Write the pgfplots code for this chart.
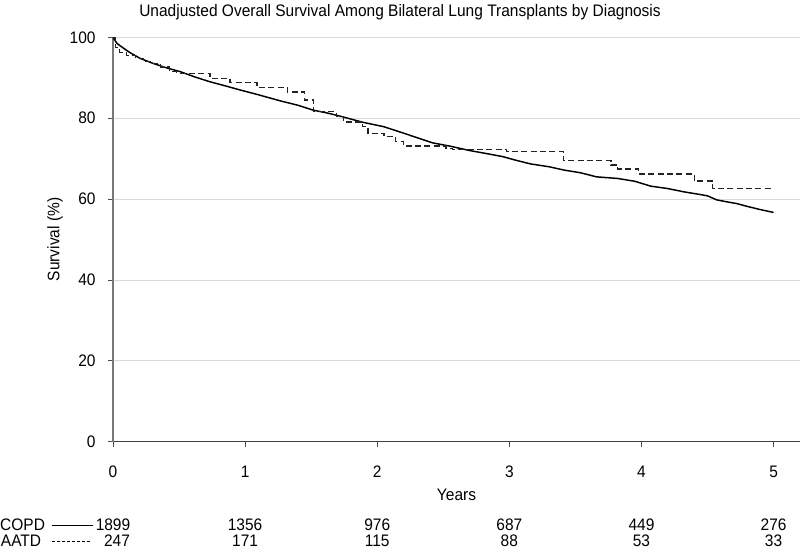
\documentclass[border=0pt]{standalone}
\usepackage{fontspec}
\setmainfont{Liberation Sans}[FakeStretch=0.93]
\usepackage{pgfplots}
\pgfplotsset{compat=1.18}
\definecolor{gridc}{RGB}{217,217,217}
\definecolor{axc}{RGB}{120,120,120}
\definecolor{dashc}{RGB}{35,35,35}
\newcommand{\fs}{\fontsize{12.5}{14}\selectfont}
\begin{document}
\fs
\begin{tikzpicture}
\path[use as bounding box] (0,0) rectangle (600pt,412.5pt);
\begin{axis}[
  at={(84.75pt,81.2pt)}, anchor=south west,
  scale only axis, width=515.25pt, height=303.3pt,
  xmin=0, xmax=5.2, ymin=0, ymax=100,
  axis x line*=bottom, axis y line*=left,
  x axis line style={draw=black!75, line width=0.6pt, -},
  y axis line style={draw=axc, line width=0.8pt, -},
  xtick={0,1,2,3,4,5}, ytick={0,20,40,60,80,100},
  tick align=outside, major tick length=3.75pt,
  every tick/.style={black!70, line width=0.6pt},
  ymajorgrids, grid style={gridc, line width=0.6pt},
  /pgf/number format/assume math mode=true,
  tick label style={font=\fs},
  xticklabel style={yshift=-10pt},
  yticklabel style={xshift=-5pt},
  xlabel={Years}, ylabel={Survival (\%)},
  xlabel style={at={(axis description cs:0.5,-0.131)}, anchor=center, yshift=0pt, font=\fs},
  ylabel style={at={(axis description cs:-0.0845,0.5)}, anchor=center, rotate=0, font=\fs},
  title={Unadjusted Overall Survival Among Bilateral Lung Transplants by Diagnosis},
  title style={at={(axis description cs:0.4178,1.0638)}, anchor=center, yshift=-6.4pt, font=\fs},
  clip=false,
]
% COPD
\addplot[black, line width=1.1pt] coordinates {
(0,100) (0.03,98.5) (0.08,97.3) (0.13,96.2) (0.205,94.8) (0.3,93.6) (0.4,92.5)
(0.51,91.5) (0.62,90.2) (0.735,89.0) (0.85,88.0) (0.96,87.0) (1.1,85.8)
(1.265,84.3) (1.4,83.2) (1.515,82.0) (1.62,81.3) (1.72,80.5) (1.89,79.0)
(2.05,77.9) (2.20,76.3) (2.30,75.2) (2.42,73.9) (2.55,73.1) (2.70,72.0)
(2.82,71.3) (2.95,70.5) (3.05,69.6) (3.16,68.7) (3.30,68.0) (3.41,67.2)
(3.54,66.5) (3.66,65.5) (3.82,65.1) (3.95,64.4) (4.07,63.2) (4.2,62.6)
(4.32,61.8) (4.45,61.1) (4.50,60.8) (4.57,59.8) (4.65,59.3) (4.72,58.9)
(4.8,58.2) (4.9,57.4) (5.0,56.7)
};
% AATD
\addplot[dashc, line width=1pt, dash pattern=on 4.5pt off 2.5pt, const plot] coordinates {
(0,100) (0.02,97.5) (0.05,96.3) (0.10,95.5) (0.17,94.8) (0.23,94.0) (0.30,93.6)
(0.36,92.7) (0.43,91.5) (0.48,91.1) (0.735,89.9) (0.886,88.8) (1.09,87.6)
(1.32,86.5) (1.45,84.5) (1.52,81.6) (1.69,80.4) (1.745,79.1) (1.89,77.9)
(1.93,76.3) (2.05,75.4) (2.14,74.2) (2.20,73.1) (2.52,72.5) (2.57,72.3)
(2.98,71.7) (3.41,69.5) (3.77,68.4) (3.82,67.4) (3.98,66.2) (4.40,64.5)
(4.54,62.7) (5.0,62.7)
};
% number at risk
\node[anchor=west, inner sep=0pt] at (axis cs:-0.856,-20.6) {COPD};
\node[anchor=west, inner sep=0pt] at (axis cs:-0.85,-24.55) {AATD};
\draw[black, line width=0.6pt] (axis cs:-0.462,-20.6) -- (axis cs:-0.152,-20.6);
\draw[black, line width=0.6pt, dash pattern=on 2.2pt off 1.6pt] (axis cs:-0.462,-24.55) -- (axis cs:-0.17,-24.55);
\node at (axis cs:0,-20.6) {1899};
\node at (axis cs:1,-20.6) {1356};
\node at (axis cs:2,-20.6) {976};
\node at (axis cs:3,-20.6) {687};
\node at (axis cs:4,-20.6) {449};
\node at (axis cs:5,-20.6) {276};
\node at (axis cs:0.03,-24.55) {247};
\node at (axis cs:1,-24.55) {171};
\node at (axis cs:2,-24.55) {115};
\node at (axis cs:3,-24.55) {88};
\node at (axis cs:4,-24.55) {53};
\node at (axis cs:5,-24.55) {33};
\end{axis}
\end{tikzpicture}
\end{document}
